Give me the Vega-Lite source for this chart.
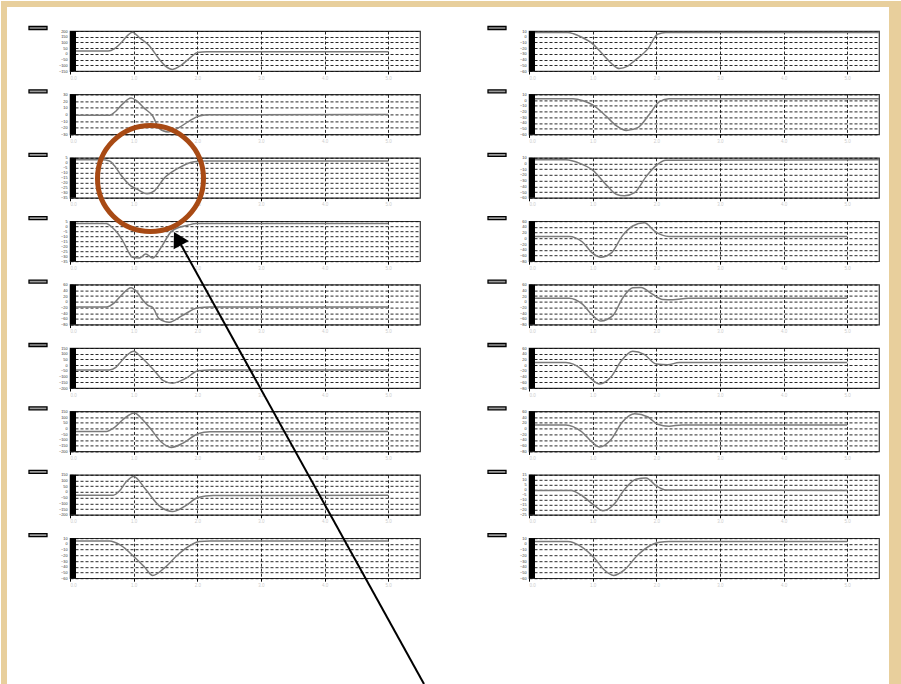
{
  "$schema": "https://vega.github.io/schema/vega-lite/v6.json",
  "background": "white",
  "padding": 0,
  "data": {"values": [
    {"k":"d","r":1,"c":1,"v":-150},{"k":"d","r":1,"c":1,"v":200},
    {"k":"s","r":1,"c":1,"t":0,"v":25},{"k":"s","r":1,"c":1,"t":0.6,"v":25},{"k":"s","r":1,"c":1,"t":0.7,"v":46},{"k":"s","r":1,"c":1,"t":0.8,"v":95},{"k":"s","r":1,"c":1,"t":0.9,"v":158},{"k":"s","r":1,"c":1,"t":0.98,"v":190},{"k":"s","r":1,"c":1,"t":1.1,"v":137},{"k":"s","r":1,"c":1,"t":1.25,"v":69},{"k":"s","r":1,"c":1,"t":1.4,"v":-45},{"k":"s","r":1,"c":1,"t":1.5,"v":-108},{"k":"s","r":1,"c":1,"t":1.61,"v":-136},{"k":"s","r":1,"c":1,"t":1.75,"v":-98},{"k":"s","r":1,"c":1,"t":1.9,"v":-28},{"k":"s","r":1,"c":1,"t":2.0,"v":11},{"k":"s","r":1,"c":1,"t":2.15,"v":18},{"k":"s","r":1,"c":1,"t":5.0,"v":18},

    {"k":"d","r":2,"c":1,"v":-30},{"k":"d","r":2,"c":1,"v":30},
    {"k":"s","r":2,"c":1,"t":0,"v":-1.2},{"k":"s","r":2,"c":1,"t":0.62,"v":-1.2},{"k":"s","r":2,"c":1,"t":0.72,"v":4.8},{"k":"s","r":2,"c":1,"t":0.82,"v":15},{"k":"s","r":2,"c":1,"t":0.96,"v":24.6},{"k":"s","r":2,"c":1,"t":1.05,"v":20.4},{"k":"s","r":2,"c":1,"t":1.17,"v":9},{"k":"s","r":2,"c":1,"t":1.3,"v":-2.4},{"k":"s","r":2,"c":1,"t":1.4,"v":-21},{"k":"s","r":2,"c":1,"t":1.54,"v":-26.4},{"k":"s","r":2,"c":1,"t":1.69,"v":-21},{"k":"s","r":2,"c":1,"t":1.88,"v":-9.6},{"k":"s","r":2,"c":1,"t":2.03,"v":-2.4},{"k":"s","r":2,"c":1,"t":2.2,"v":-0.6},{"k":"s","r":2,"c":1,"t":5.0,"v":0},

    {"k":"d","r":3,"c":1,"v":-35},{"k":"d","r":3,"c":1,"v":5},
    {"k":"s","r":3,"c":1,"t":0,"v":3},{"k":"s","r":3,"c":1,"t":0.5,"v":3},{"k":"s","r":3,"c":1,"t":0.62,"v":1.8},{"k":"s","r":3,"c":1,"t":0.7,"v":-3},{"k":"s","r":3,"c":1,"t":0.8,"v":-12.2},{"k":"s","r":3,"c":1,"t":0.96,"v":-23.4},{"k":"s","r":3,"c":1,"t":1.06,"v":-26.6},{"k":"s","r":3,"c":1,"t":1.21,"v":-31},{"k":"s","r":3,"c":1,"t":1.33,"v":-27.8},{"k":"s","r":3,"c":1,"t":1.48,"v":-15.4},{"k":"s","r":3,"c":1,"t":1.69,"v":-5.8},{"k":"s","r":3,"c":1,"t":1.95,"v":1},{"k":"s","r":3,"c":1,"t":2.1,"v":1.8},{"k":"s","r":3,"c":1,"t":5.0,"v":1.8},

    {"k":"d","r":4,"c":1,"v":-35},{"k":"d","r":4,"c":1,"v":5},
    {"k":"s","r":4,"c":1,"t":0,"v":2.6},{"k":"s","r":4,"c":1,"t":0.57,"v":2.6},{"k":"s","r":4,"c":1,"t":0.66,"v":-1},{"k":"s","r":4,"c":1,"t":0.75,"v":-7},{"k":"s","r":4,"c":1,"t":0.84,"v":-15.8},{"k":"s","r":4,"c":1,"t":0.91,"v":-24.6},{"k":"s","r":4,"c":1,"t":0.98,"v":-31},{"k":"s","r":4,"c":1,"t":1.09,"v":-31.8},{"k":"s","r":4,"c":1,"t":1.19,"v":-27.8},{"k":"s","r":4,"c":1,"t":1.3,"v":-31.8},{"k":"s","r":4,"c":1,"t":1.43,"v":-21.4},{"k":"s","r":4,"c":1,"t":1.59,"v":-5.4},{"k":"s","r":4,"c":1,"t":1.72,"v":-1},{"k":"s","r":4,"c":1,"t":1.85,"v":1},{"k":"s","r":4,"c":1,"t":1.98,"v":2.6},{"k":"s","r":4,"c":1,"t":5.0,"v":2.6},

    {"k":"d","r":5,"c":1,"v":-80},{"k":"d","r":5,"c":1,"v":60},
    {"k":"s","r":5,"c":1,"t":0,"v":-18.4},{"k":"s","r":5,"c":1,"t":0.57,"v":-18.4},{"k":"s","r":5,"c":1,"t":0.7,"v":-3},{"k":"s","r":5,"c":1,"t":0.8,"v":20.8},{"k":"s","r":5,"c":1,"t":0.96,"v":48.8},{"k":"s","r":5,"c":1,"t":1.05,"v":34.8},{"k":"s","r":5,"c":1,"t":1.15,"v":4},{"k":"s","r":5,"c":1,"t":1.22,"v":-12},{"k":"s","r":5,"c":1,"t":1.3,"v":-20},{"k":"s","r":5,"c":1,"t":1.4,"v":-59},{"k":"s","r":5,"c":1,"t":1.56,"v":-71.6},{"k":"s","r":5,"c":1,"t":1.77,"v":-47.8},{"k":"s","r":5,"c":1,"t":2.01,"v":-21.2},{"k":"s","r":5,"c":1,"t":2.2,"v":-18.4},{"k":"s","r":5,"c":1,"t":5.0,"v":-18.4},

    {"k":"d","r":6,"c":1,"v":-200},{"k":"d","r":6,"c":1,"v":150},
    {"k":"s","r":6,"c":1,"t":0,"v":-42.5},{"k":"s","r":6,"c":1,"t":0.62,"v":-42.5},{"k":"s","r":6,"c":1,"t":0.72,"v":-20},{"k":"s","r":6,"c":1,"t":0.8,"v":30},{"k":"s","r":6,"c":1,"t":0.9,"v":90},{"k":"s","r":6,"c":1,"t":1.0,"v":122},{"k":"s","r":6,"c":1,"t":1.1,"v":80},{"k":"s","r":6,"c":1,"t":1.22,"v":13.5},{"k":"s","r":6,"c":1,"t":1.35,"v":-63.5},{"k":"s","r":6,"c":1,"t":1.46,"v":-133.5},{"k":"s","r":6,"c":1,"t":1.61,"v":-158},{"k":"s","r":6,"c":1,"t":1.82,"v":-116},{"k":"s","r":6,"c":1,"t":2.01,"v":-49.5},{"k":"s","r":6,"c":1,"t":2.2,"v":-42.5},{"k":"s","r":6,"c":1,"t":5.0,"v":-42.5},

    {"k":"d","r":7,"c":1,"v":-200},{"k":"d","r":7,"c":1,"v":150},
    {"k":"s","r":7,"c":1,"t":0,"v":-25},{"k":"s","r":7,"c":1,"t":0.57,"v":-25},{"k":"s","r":7,"c":1,"t":0.7,"v":10},{"k":"s","r":7,"c":1,"t":0.85,"v":87},{"k":"s","r":7,"c":1,"t":1.01,"v":136},{"k":"s","r":7,"c":1,"t":1.15,"v":73},{"k":"s","r":7,"c":1,"t":1.27,"v":-4},{"k":"s","r":7,"c":1,"t":1.43,"v":-116},{"k":"s","r":7,"c":1,"t":1.59,"v":-165},{"k":"s","r":7,"c":1,"t":1.77,"v":-130},{"k":"s","r":7,"c":1,"t":2.01,"v":-46},{"k":"s","r":7,"c":1,"t":2.2,"v":-28.5},{"k":"s","r":7,"c":1,"t":5.0,"v":-25},

    {"k":"d","r":8,"c":1,"v":-200},{"k":"d","r":8,"c":1,"v":150},
    {"k":"s","r":8,"c":1,"t":0,"v":-28.5},{"k":"s","r":8,"c":1,"t":0.68,"v":-28.5},{"k":"s","r":8,"c":1,"t":0.78,"v":10},{"k":"s","r":8,"c":1,"t":0.88,"v":87},{"k":"s","r":8,"c":1,"t":1.0,"v":136},{"k":"s","r":8,"c":1,"t":1.19,"v":20.5},{"k":"s","r":8,"c":1,"t":1.4,"v":-119.5},{"k":"s","r":8,"c":1,"t":1.61,"v":-172},{"k":"s","r":8,"c":1,"t":1.82,"v":-119.5},{"k":"s","r":8,"c":1,"t":2.01,"v":-49.5},{"k":"s","r":8,"c":1,"t":2.25,"v":-32},{"k":"s","r":8,"c":1,"t":5.0,"v":-28.5},

    {"k":"d","r":9,"c":1,"v":-60},{"k":"d","r":9,"c":1,"v":10},
    {"k":"s","r":9,"c":1,"t":0,"v":5.1},{"k":"s","r":9,"c":1,"t":0.62,"v":5.1},{"k":"s","r":9,"c":1,"t":0.7,"v":3},{"k":"s","r":9,"c":1,"t":0.8,"v":-2.6},{"k":"s","r":9,"c":1,"t":1.01,"v":-22.9},{"k":"s","r":9,"c":1,"t":1.17,"v":-40.4},{"k":"s","r":9,"c":1,"t":1.3,"v":-55.1},{"k":"s","r":9,"c":1,"t":1.48,"v":-42.5},{"k":"s","r":9,"c":1,"t":1.69,"v":-19.4},{"k":"s","r":9,"c":1,"t":1.9,"v":-1.9},{"k":"s","r":9,"c":1,"t":2.03,"v":4.4},{"k":"s","r":9,"c":1,"t":2.2,"v":5.1},{"k":"s","r":9,"c":1,"t":5.0,"v":5.1},

    {"k":"d","r":1,"c":2,"v":-60},{"k":"d","r":1,"c":2,"v":10},
    {"k":"s","r":1,"c":2,"t":0,"v":7.2},{"k":"s","r":1,"c":2,"t":0.61,"v":7.2},{"k":"s","r":1,"c":2,"t":0.7,"v":5.1},{"k":"s","r":1,"c":2,"t":0.82,"v":-0.5},{"k":"s","r":1,"c":2,"t":1.0,"v":-12.4},{"k":"s","r":1,"c":2,"t":1.18,"v":-33.4},{"k":"s","r":1,"c":2,"t":1.3,"v":-47.4},{"k":"s","r":1,"c":2,"t":1.42,"v":-55.8},{"k":"s","r":1,"c":2,"t":1.55,"v":-51.6},{"k":"s","r":1,"c":2,"t":1.66,"v":-41.8},{"k":"s","r":1,"c":2,"t":1.87,"v":-20.8},{"k":"s","r":1,"c":2,"t":2.02,"v":4.4},{"k":"s","r":1,"c":2,"t":2.15,"v":7.2},{"k":"s","r":1,"c":2,"t":5.5,"v":7.2},

    {"k":"d","r":2,"c":2,"v":-60},{"k":"d","r":2,"c":2,"v":10},
    {"k":"s","r":2,"c":2,"t":0,"v":2.3},{"k":"s","r":2,"c":2,"t":0.69,"v":2.3},{"k":"s","r":2,"c":2,"t":0.85,"v":-1.2},{"k":"s","r":2,"c":2,"t":1.0,"v":-8.2},{"k":"s","r":2,"c":2,"t":1.21,"v":-27.8},{"k":"s","r":2,"c":2,"t":1.37,"v":-44.6},{"k":"s","r":2,"c":2,"t":1.53,"v":-53},{"k":"s","r":2,"c":2,"t":1.71,"v":-48.1},{"k":"s","r":2,"c":2,"t":1.89,"v":-25},{"k":"s","r":2,"c":2,"t":2.05,"v":-2.6},{"k":"s","r":2,"c":2,"t":2.2,"v":2.3},{"k":"s","r":2,"c":2,"t":5.5,"v":2.3},

    {"k":"d","r":3,"c":2,"v":-60},{"k":"d","r":3,"c":2,"v":10},
    {"k":"s","r":3,"c":2,"t":0,"v":6.5},{"k":"s","r":3,"c":2,"t":0.58,"v":6.5},{"k":"s","r":3,"c":2,"t":0.8,"v":0.2},{"k":"s","r":3,"c":2,"t":1.0,"v":-11.7},{"k":"s","r":3,"c":2,"t":1.21,"v":-36.9},{"k":"s","r":3,"c":2,"t":1.37,"v":-53.7},{"k":"s","r":3,"c":2,"t":1.5,"v":-56.5},{"k":"s","r":3,"c":2,"t":1.66,"v":-50.9},{"k":"s","r":3,"c":2,"t":1.84,"v":-22.9},{"k":"s","r":3,"c":2,"t":2.0,"v":-3.3},{"k":"s","r":3,"c":2,"t":2.15,"v":5.8},{"k":"s","r":3,"c":2,"t":5.5,"v":6.5},

    {"k":"d","r":4,"c":2,"v":-80},{"k":"d","r":4,"c":2,"v":60},
    {"k":"s","r":4,"c":2,"t":0,"v":6.8},{"k":"s","r":4,"c":2,"t":0.63,"v":6.8},{"k":"s","r":4,"c":2,"t":0.84,"v":-12.8},{"k":"s","r":4,"c":2,"t":1.0,"v":-52},{"k":"s","r":4,"c":2,"t":1.13,"v":-66},{"k":"s","r":4,"c":2,"t":1.29,"v":-52},{"k":"s","r":4,"c":2,"t":1.47,"v":9.6},{"k":"s","r":4,"c":2,"t":1.63,"v":43.2},{"k":"s","r":4,"c":2,"t":1.81,"v":54.4},{"k":"s","r":4,"c":2,"t":2.0,"v":20.8},{"k":"s","r":4,"c":2,"t":2.2,"v":6.8},{"k":"s","r":4,"c":2,"t":5.0,"v":6.8},

    {"k":"d","r":5,"c":2,"v":-80},{"k":"d","r":5,"c":2,"v":60},
    {"k":"s","r":5,"c":2,"t":0,"v":12.4},{"k":"s","r":5,"c":2,"t":0.63,"v":12.4},{"k":"s","r":5,"c":2,"t":0.84,"v":-8.6},{"k":"s","r":5,"c":2,"t":1.0,"v":-47.8},{"k":"s","r":5,"c":2,"t":1.13,"v":-67.4},{"k":"s","r":5,"c":2,"t":1.32,"v":-47.8},{"k":"s","r":5,"c":2,"t":1.47,"v":12.4},{"k":"s","r":5,"c":2,"t":1.63,"v":48.8},{"k":"s","r":5,"c":2,"t":1.76,"v":50.2},{"k":"s","r":5,"c":2,"t":1.94,"v":26.4},{"k":"s","r":5,"c":2,"t":2.1,"v":8.2},{"k":"s","r":5,"c":2,"t":2.26,"v":6.8},{"k":"s","r":5,"c":2,"t":2.5,"v":12.4},{"k":"s","r":5,"c":2,"t":5.0,"v":12.4},

    {"k":"d","r":6,"c":2,"v":-80},{"k":"d","r":6,"c":2,"v":60},
    {"k":"s","r":6,"c":2,"t":0,"v":9.6},{"k":"s","r":6,"c":2,"t":0.58,"v":9.6},{"k":"s","r":6,"c":2,"t":0.82,"v":-12.8},{"k":"s","r":6,"c":2,"t":0.97,"v":-46.4},{"k":"s","r":6,"c":2,"t":1.11,"v":-66},{"k":"s","r":6,"c":2,"t":1.29,"v":-40.8},{"k":"s","r":6,"c":2,"t":1.45,"v":15.2},{"k":"s","r":6,"c":2,"t":1.63,"v":48.8},{"k":"s","r":6,"c":2,"t":1.81,"v":37.6},{"k":"s","r":6,"c":2,"t":2.0,"v":4},{"k":"s","r":6,"c":2,"t":2.18,"v":1.2},{"k":"s","r":6,"c":2,"t":2.36,"v":9.6},{"k":"s","r":6,"c":2,"t":5.0,"v":9.6},

    {"k":"d","r":7,"c":2,"v":-80},{"k":"d","r":7,"c":2,"v":60},
    {"k":"s","r":7,"c":2,"t":0,"v":12.4},{"k":"s","r":7,"c":2,"t":0.58,"v":12.4},{"k":"s","r":7,"c":2,"t":0.82,"v":-10},{"k":"s","r":7,"c":2,"t":1.0,"v":-49.2},{"k":"s","r":7,"c":2,"t":1.11,"v":-64.6},{"k":"s","r":7,"c":2,"t":1.29,"v":-38},{"k":"s","r":7,"c":2,"t":1.47,"v":23.6},{"k":"s","r":7,"c":2,"t":1.66,"v":51.6},{"k":"s","r":7,"c":2,"t":1.87,"v":40.4},{"k":"s","r":7,"c":2,"t":2.02,"v":15.2},{"k":"s","r":7,"c":2,"t":2.2,"v":8.2},{"k":"s","r":7,"c":2,"t":2.4,"v":12.4},{"k":"s","r":7,"c":2,"t":5.0,"v":12.4},

    {"k":"d","r":8,"c":2,"v":-25},{"k":"d","r":8,"c":2,"v":15},
    {"k":"s","r":8,"c":2,"t":0,"v":-0.6},{"k":"s","r":8,"c":2,"t":0.66,"v":-0.6},{"k":"s","r":8,"c":2,"t":0.84,"v":-6.2},{"k":"s","r":8,"c":2,"t":1.03,"v":-15.8},{"k":"s","r":8,"c":2,"t":1.16,"v":-21},{"k":"s","r":8,"c":2,"t":1.34,"v":-14.2},{"k":"s","r":8,"c":2,"t":1.5,"v":0.2},{"k":"s","r":8,"c":2,"t":1.68,"v":10.6},{"k":"s","r":8,"c":2,"t":1.84,"v":11.8},{"k":"s","r":8,"c":2,"t":2.0,"v":3.8},{"k":"s","r":8,"c":2,"t":2.15,"v":-0.2},{"k":"s","r":8,"c":2,"t":5.0,"v":-0.6},

    {"k":"d","r":9,"c":2,"v":-60},{"k":"d","r":9,"c":2,"v":10},
    {"k":"s","r":9,"c":2,"t":0,"v":4.4},{"k":"s","r":9,"c":2,"t":0.61,"v":4.4},{"k":"s","r":9,"c":2,"t":0.82,"v":-4.7},{"k":"s","r":9,"c":2,"t":1.03,"v":-25},{"k":"s","r":9,"c":2,"t":1.18,"v":-45.3},{"k":"s","r":9,"c":2,"t":1.33,"v":-55.1},{"k":"s","r":9,"c":2,"t":1.5,"v":-45.3},{"k":"s","r":9,"c":2,"t":1.71,"v":-19.4},{"k":"s","r":9,"c":2,"t":1.92,"v":-1.9},{"k":"s","r":9,"c":2,"t":2.05,"v":3},{"k":"s","r":9,"c":2,"t":2.2,"v":4.4},{"k":"s","r":9,"c":2,"t":5.0,"v":4.4}
  ]},
  "facet": {
    "row": {"field": "r", "type": "ordinal", "title": null, "header": {"labels": false, "title": null}},
    "column": {"field": "c", "type": "ordinal", "title": null, "header": {"labels": false, "title": null}}
  },
  "spacing": {"row": 23.4, "column": 109},
  "bounds": "flush",
  "resolve": {"scale": {"x": "independent", "y": "independent"}},
  "spec": {
    "width": 350,
    "height": 40,
    "layer": [
      {
        "layer": [
          {
            "transform": [{"filter": "datum.k == 'd'"}],
            "mark": {"type": "point", "opacity": 0},
            "encoding": {
              "y": {"field": "v", "type": "quantitative",
                "scale": {"nice": false, "zero": false},
                "axis": {"title": null, "tickCount": 7, "grid": true, "gridColor": "#111", "gridDash": [3, 2], "gridWidth": 0.9,
                  "domain": false, "ticks": false, "labelFontSize": 3.8, "labelColor": "#333", "labelPadding": 3,
                  "labelFont": "Liberation Sans"}}
            }
          },
          {
            "transform": [{"filter": "datum.k == 's'"}],
            "mark": {"type": "line", "interpolate": "monotone", "color": "#7a7a7a", "strokeWidth": 1.5},
            "encoding": {
              "x": {"field": "t", "type": "quantitative",
                "scale": {"domain": [0, 5.5], "nice": false, "zero": false},
                "axis": {"title": null, "values": [0, 1, 2, 3, 4, 5], "grid": true, "gridColor": "#111", "gridDash": [3, 2], "gridWidth": 0.9,
                  "domain": false, "ticks": true, "tickSize": 3, "tickColor": "#000", "format": ".1f",
                  "labelFontSize": 4.5, "labelColor": "#cccccc", "labelPadding": 1, "labelFont": "Liberation Sans"}},
              "y": {"field": "v", "type": "quantitative"}
            }
          }
        ]
      },
      {
        "transform": [{"filter": "datum.k == 's' && datum.t == 0"}],
        "layer": [
          {
            "mark": {"type": "rect", "color": "#000"},
            "encoding": {
              "x": {"datum": 0, "type": "quantitative", "scale": {"domain": [0, 350], "nice": false, "zero": false}, "axis": null},
              "x2": {"datum": 6},
              "y": {"datum": 0, "type": "quantitative", "scale": {"domain": [0, 40], "nice": false, "zero": false, "reverse": true}, "axis": null},
              "y2": {"datum": 40}
            }
          },
          {
            "mark": {"type": "rect", "fill": "#9a9a9a", "stroke": "#000", "strokeWidth": 1.3},
            "encoding": {
              "x": {"datum": -41, "type": "quantitative", "scale": {"domain": [0, 350], "nice": false, "zero": false}, "axis": null},
              "x2": {"datum": -23},
              "y": {"datum": -4.5, "type": "quantitative", "scale": {"domain": [0, 40], "nice": false, "zero": false, "reverse": true}, "axis": null},
              "y2": {"datum": -1.5}
            }
          }
        ]
      },
      {
        "transform": [{"filter": "datum.k == 's' && datum.t == 0 && datum.r == 9 && datum.c == 1"}],
        "layer": [
          {
            "mark": {"type": "rect", "color": "#e8cf9c"},
            "encoding": {
              "x": {"datum": 0, "type": "quantitative", "scale": {"domain": [69, 419], "nice": false, "zero": false}, "axis": null},
              "x2": {"datum": 6},
              "y": {"datum": 0, "type": "quantitative", "scale": {"domain": [537.2, 577.2], "nice": false, "zero": false, "reverse": true}, "axis": null},
              "y2": {"datum": 684}
            }
          },
          {
            "mark": {"type": "rect", "color": "#e8cf9c"},
            "encoding": {
              "x": {"datum": 0, "type": "quantitative"},
              "x2": {"datum": 901},
              "y": {"datum": 0, "type": "quantitative"},
              "y2": {"datum": 6}
            }
          },
          {
            "mark": {"type": "rect", "color": "#e8cf9c"},
            "encoding": {
              "x": {"datum": 888, "type": "quantitative"},
              "x2": {"datum": 901},
              "y": {"datum": 0, "type": "quantitative"},
              "y2": {"datum": 684}
            }
          },
          {
            "mark": {"type": "point", "shape": "circle", "filled": false, "color": "#a84a14", "strokeWidth": 5, "size": 11236, "opacity": 1},
            "encoding": {
              "x": {"datum": 149.5, "type": "quantitative"},
              "y": {"datum": 177.5, "type": "quantitative"}
            }
          },
          {
            "mark": {"type": "rule", "color": "#000", "strokeWidth": 2},
            "encoding": {
              "x": {"datum": 423, "type": "quantitative"},
              "y": {"datum": 683, "type": "quantitative"},
              "x2": {"datum": 176.6},
              "y2": {"datum": 237.6}
            }
          },
          {
            "mark": {"type": "point", "shape": "triangle-up", "filled": true, "color": "#000", "size": 300, "angle": 331, "opacity": 1},
            "encoding": {
              "x": {"datum": 176.6, "type": "quantitative"},
              "y": {"datum": 237.6, "type": "quantitative"}
            }
          }
        ]
      }
    ],
    "resolve": {"scale": {"x": "independent", "y": "independent"}}
  },
  "config": {
    "view": {"stroke": "#333", "strokeWidth": 1.2},
    "font": "Liberation Sans"
  }
}
